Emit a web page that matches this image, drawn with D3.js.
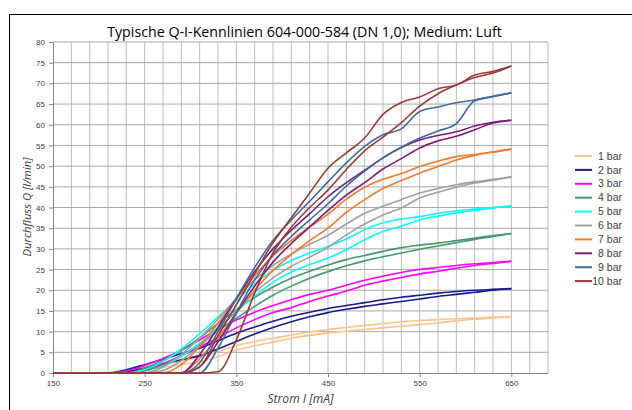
<!DOCTYPE html>
<html lang="de">
<head>
<meta charset="UTF-8">
<title>Typische Q-I-Kennlinien</title>
<style>
  body { margin: 0; background: #fff; }
  svg { display: block; }
  .tick text { font-family: "Liberation Sans", Arial, sans-serif; font-size: 8px; fill: #404040; }
  .axis path, .axis line { stroke: #868686; }
</style>
</head>
<body>
<svg id="chart" width="632" height="410"></svg>
<script src="https://d3js.org/d3.v7.min.js"></script>
<script>
// Strom I [mA]
const current = [150,170,190,210,230,250,270,290,310,330,350,370,390,410,430,450,470,490,510,530,550,570,590,610,630,650];

// Durchfluss Q [l/min], jeweils zwei Kurven pro Druck
const q1Up   = [0,0,0,0.2,0.7,1.3,2.0,2.9,3.9,5.2,6.6,7.6,8.4,9.2,9.9,10.5,11.0,11.5,11.9,12.4,12.7,12.9,13.1,13.3,13.5,13.6];
const q1Down = [0,0,0,0,0.4,0.9,1.4,2.0,2.7,4.0,5.5,6.6,7.5,8.4,9.1,9.7,10.1,10.5,10.9,11.3,11.7,12.1,12.6,13.0,13.3,13.6];
const q2Up   = [0,0,0,0,0.8,2.0,3.3,4.7,6.0,7.8,9.6,11.1,12.5,13.7,14.7,15.6,16.3,17.0,17.7,18.3,18.8,19.3,19.7,20.0,20.2,20.4];
const q2Down = [0,0,0,0,0.3,1.2,2.2,3.2,4.2,5.8,7.6,9.4,11.0,12.4,13.6,14.6,15.4,16.1,16.7,17.3,17.9,18.5,19.0,19.5,20.0,20.4];
const q3Up   = [0,0,0,0,0.5,1.8,3.5,5.5,8.0,10.6,12.8,14.7,16.3,17.7,19.0,20.0,21.2,22.4,23.4,24.3,25.0,25.5,26.0,26.4,26.7,27.0];
const q3Down = [0,0,0,0,0,0.8,2.3,4.2,6.3,8.5,10.9,12.9,14.6,15.8,17.3,18.6,19.8,21.2,22.2,23.1,23.9,24.6,25.3,26.0,26.5,27.0];
const q4Up   = [0,0,0,0,0,1.2,3.0,5.5,8.5,12.0,15.3,18.3,20.8,22.9,24.6,26.1,27.4,28.4,29.4,30.3,30.9,31.4,32.0,32.6,33.2,33.7];
const q4Down = [0,0,0,0,0,0.5,2.0,4.2,7.0,10.2,13.2,16.1,18.8,21.0,22.9,24.5,25.9,27.1,28.1,29.0,29.9,30.7,31.5,32.3,33.0,33.7];
const q5Up   = [0,0,0,0,0,0.8,2.8,5.8,9.5,13.5,17.5,21.5,24.8,27.2,29.0,30.6,32.4,34.6,36.3,37.2,37.8,38.6,39.2,39.6,40.0,40.4];
const q5Down = [0,0,0,0,0,0,1.5,4.0,7.2,11.0,14.8,18.6,21.9,24.4,26.2,27.8,29.8,32.2,34.2,35.5,37.0,37.9,38.7,39.3,39.9,40.4];
const q6Up   = [0,0,0,0,0,0,1.5,4.5,8.5,13.0,18.0,22.5,26.0,28.8,31.1,33.3,36.0,38.6,40.3,41.9,43.5,44.6,45.5,46.2,46.8,47.4];
const q6Down = [0,0,0,0,0,0,0.6,3.0,6.5,10.5,15.0,19.5,23.0,25.8,28.0,30.4,33.4,36.0,38.2,39.9,42.3,43.7,44.9,45.9,46.6,47.4];
const q7Up   = [0,0,0,0,0,0,0,2.0,6.5,12.0,18.0,23.5,28.3,32.0,35.3,38.4,42.0,44.9,46.8,48.2,49.9,51.2,52.3,52.8,53.4,54.1];
const q7Down = [0,0,0,0,0,0,0,0,3.5,8.5,14.5,20.0,24.8,28.6,32.0,35.0,38.8,41.9,44.6,46.5,48.3,49.9,51.5,52.6,53.4,54.1];
const q8Up   = [0,0,0,0,0,0,0,0,4.5,11.0,18.0,24.5,30.0,34.5,38.5,42.6,46.0,49.0,52.0,54.5,56.3,57.4,58.3,59.7,60.6,61.1];
const q8Down = [0,0,0,0,0,0,0,0,1.5,7.5,14.5,21.0,26.8,31.3,35.3,39.3,43.0,46.0,49.3,51.8,54.4,56.1,57.2,58.8,60.4,61.1];
const q9Up   = [0,0,0,0,0,0,0,0,2.5,10.0,18.0,25.5,32.0,37.0,41.5,46.2,50.8,54.8,57.6,59.0,63.2,64.3,65.3,66.0,66.9,67.7];
const q9Down = [0,0,0,0,0,0,0,0,0,6.0,14.5,22.5,28.5,33.0,37.0,40.9,45.2,48.8,52.0,54.6,56.8,58.5,60.3,65.8,66.8,67.7];
const q10Up   = [0,0,0,0,0,0,0,0,1.5,9.0,16.5,24.0,31.5,37.5,43.5,49.5,53.2,56.8,62.5,65.4,66.7,68.7,69.6,72.0,72.9,74.2];
const q10Down = [0,0,0,0,0,0,0,0,0,0.3,8.0,19.3,29.0,35.2,40.0,44.2,49.2,53.7,57.0,60.5,64.5,67.5,69.6,71.4,72.5,74.2];

const barLabels = ['1 bar','2 bar','3 bar','4 bar','5 bar','6 bar','7 bar','8 bar','9 bar','10 bar'];
const barColors = ['#fcc38d','#1a1d87','#ff00ff','#45996c','#00ffff','#a0a0a0','#f7772a','#7c1c80','#3f6b9e','#9b3b38'];
const xTickValues = [150,250,350,450,550,650];

const curves = [
  [q1Up, q1Down], [q2Up, q2Down], [q3Up, q3Down], [q4Up, q4Down], [q5Up, q5Down],
  [q6Up, q6Down], [q7Up, q7Down], [q8Up, q8Down], [q9Up, q9Down], [q10Up, q10Down]
];

const svg = d3.select('#chart');
const x = d3.scaleLinear().domain([150, 690]).range([53, 548]);
const y = d3.scaleLinear().domain([0, 80]).range([373, 42]);

// Rahmen
svg.append('rect')
  .attr('x', 9.5).attr('y', 14.5)
  .attr('width', 640).attr('height', 420)
  .attr('fill', 'none').attr('stroke', '#000');

function fitWidth(text, target) {
  const w = text.node().getComputedTextLength();
  const fs = parseFloat(text.attr('font-size'));
  text.attr('font-size', fs * target / w);
}

// Titel
const title = svg.append('text')
  .attr('x', 304.5).attr('y', 37)
  .attr('text-anchor', 'middle')
  .attr('font-family', '"Open Sans", sans-serif')
  .attr('font-size', 14)
  .attr('fill', '#000')
  .text('Typische Q-I-Kennlinien 604-000-584 (DN 1,0); Medium: Luft');
fitWidth(title, 395);

// Gitter
svg.append('g')
  .selectAll('line')
  .data(d3.range(170, 691, 20))
  .join('line')
  .attr('x1', d => x(d)).attr('x2', d => x(d))
  .attr('y1', y(0)).attr('y2', y(80))
  .attr('stroke', '#bdbdbd');

svg.append('g')
  .selectAll('line')
  .data(d3.range(5, 81, 5))
  .join('line')
  .attr('x1', x(150)).attr('x2', x(690))
  .attr('y1', d => y(d)).attr('y2', d => y(d))
  .attr('stroke', '#a8a8a8');

// Achsen
svg.append('g')
  .attr('class', 'axis')
  .attr('transform', `translate(${x(150)},0)`)
  .call(d3.axisLeft(y).tickValues(d3.range(0, 81, 5)).tickSize(4).tickSizeOuter(0).tickPadding(4));

svg.append('g')
  .attr('class', 'axis')
  .attr('transform', `translate(0,${y(0)})`)
  .call(d3.axisBottom(x).tickValues(xTickValues).tickSize(4).tickSizeOuter(0).tickPadding(3));

// Achsentitel
const yTitle = svg.append('text')
  .attr('transform', 'translate(31,207) rotate(-90)')
  .attr('text-anchor', 'middle')
  .attr('font-family', '"Open Sans", sans-serif')
  .attr('font-style', 'italic')
  .attr('font-size', 11)
  .attr('fill', '#404040')
  .text('Durchfluss Q [l/min]');
fitWidth(yTitle, 99);

const xTitle = svg.append('text')
  .attr('x', 300.5).attr('y', 403)
  .attr('text-anchor', 'middle')
  .attr('font-family', '"Open Sans", sans-serif')
  .attr('font-style', 'italic')
  .attr('font-size', 11)
  .attr('fill', '#404040')
  .text('Strom I [mA]');
fitWidth(xTitle, 66);

// Kurven
const line = d3.line()
  .x((d, i) => x(current[i]))
  .y(d => y(d))
  .curve(d3.curveMonotoneX);

const plot = svg.append('g');
curves.forEach((pair, k) => {
  pair.forEach(values => {
    plot.append('path')
      .datum(values)
      .attr('d', line)
      .attr('fill', 'none')
      .attr('stroke', barColors[k])
      .attr('stroke-width', 1.6);
  });
});

// Legende
const legend = svg.append('g');
barLabels.forEach((label, i) => {
  const ly = 156 + i * 13.9;
  legend.append('line')
    .attr('x1', 575).attr('x2', 592)
    .attr('y1', ly).attr('y2', ly)
    .attr('stroke', barColors[i])
    .attr('stroke-width', 2);
  legend.append('text')
    .attr('x', 622).attr('y', ly)
    .attr('dy', '0.35em')
    .attr('text-anchor', 'end')
    .attr('font-family', '"Liberation Sans", Arial, sans-serif')
    .attr('font-size', 10.5)
    .attr('fill', '#404040')
    .text(label);
});
</script>
</body>
</html>
